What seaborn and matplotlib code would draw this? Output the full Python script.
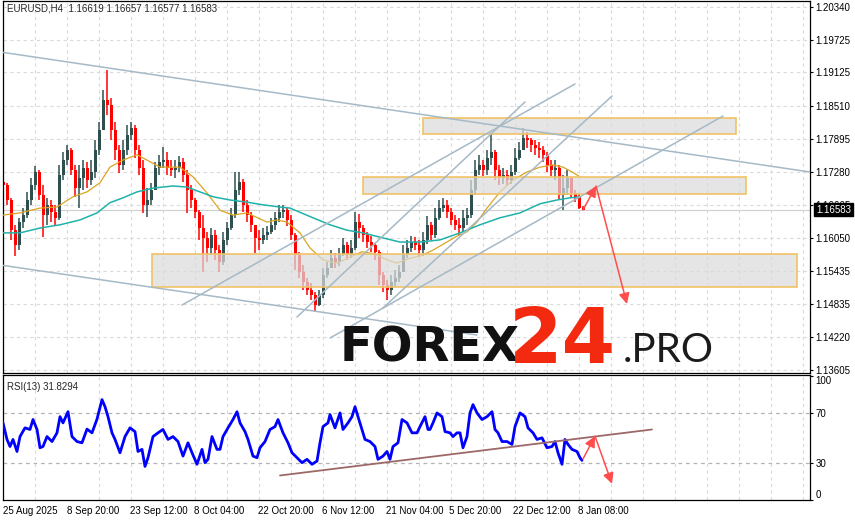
import numpy as np
import pandas as pd
import matplotlib
matplotlib.use('Agg')
import matplotlib.pyplot as plt
import seaborn as sns
from matplotlib.patches import Rectangle

# EURUSD H4, every candle below = 4 bars of the original chart
candle_step = 4
first_open = 1.1710
close = [1.1704, 1.1676, 1.1620, 1.1592, 1.1635, 1.1648, 1.1676, 1.1704, 1.1728, 1.1685,
         1.1648, 1.1667, 1.1654, 1.1643, 1.1722, 1.1750, 1.1769, 1.1732, 1.1698, 1.1717,
         1.1735, 1.1713, 1.1728, 1.1769, 1.1806, 1.1862, 1.1852, 1.1806, 1.1769, 1.1741,
         1.1769, 1.1797, 1.1810, 1.1769, 1.1735, 1.1667, 1.1676, 1.1694, 1.1735, 1.1746,
         1.1750, 1.1735, 1.1732, 1.1735, 1.1746, 1.1722, 1.1694, 1.1676, 1.1654, 1.1624,
         1.1606, 1.1587, 1.1611, 1.1583, 1.1561, 1.1602, 1.1624, 1.1648, 1.1694, 1.1709,
         1.1667, 1.1648, 1.1630, 1.1606, 1.1602, 1.1611, 1.1617, 1.1630, 1.1643, 1.1654,
         1.1657, 1.1639, 1.1611, 1.1574, 1.1542, 1.1524, 1.1509, 1.1500, 1.1481, 1.1500,
         1.1537, 1.1550, 1.1568, 1.1561, 1.1574, 1.1592, 1.1574, 1.1587, 1.1635, 1.1624,
         1.1611, 1.1598, 1.1592, 1.1580, 1.1537, 1.1518, 1.1509, 1.1524, 1.1531, 1.1542,
         1.1574, 1.1587, 1.1598, 1.1592, 1.1583, 1.1602, 1.1630, 1.1611, 1.1643, 1.1661,
         1.1667, 1.1654, 1.1639, 1.1630, 1.1624, 1.1643, 1.1648, 1.1694, 1.1732, 1.1741,
         1.1732, 1.1754, 1.1765, 1.1732, 1.1717, 1.1722, 1.1713, 1.1728, 1.1754, 1.1769,
         1.1791, 1.1787, 1.1778, 1.1772, 1.1769, 1.1760, 1.1741, 1.1732, 1.1735, 1.1685,
         1.1698, 1.1717, 1.1689, 1.1682, 1.1662, 1.16583]
high = [1.1717, 1.1708, 1.1680, 1.1630, 1.1643, 1.1661, 1.1691, 1.1717, 1.1739, 1.1732,
        1.1704, 1.1680, 1.1676, 1.1667, 1.1741, 1.1765, 1.1778, 1.1772, 1.1741, 1.1741,
        1.1750, 1.1746, 1.1750, 1.1787, 1.1821, 1.1880, 1.1917, 1.1865, 1.1821, 1.1778,
        1.1787, 1.1815, 1.1821, 1.1815, 1.1778, 1.1750, 1.1698, 1.1708, 1.1746, 1.1760,
        1.1774, 1.1765, 1.1750, 1.1750, 1.1758, 1.1754, 1.1732, 1.1704, 1.1680, 1.1657,
        1.1648, 1.1617, 1.1624, 1.1620, 1.1592, 1.1617, 1.1635, 1.1661, 1.1728, 1.1728,
        1.1715, 1.1676, 1.1654, 1.1630, 1.1620, 1.1624, 1.1628, 1.1643, 1.1654, 1.1667,
        1.1667, 1.1661, 1.1648, 1.1615, 1.1580, 1.1555, 1.1531, 1.1522, 1.1505, 1.1509,
        1.1550, 1.1561, 1.1583, 1.1578, 1.1587, 1.1606, 1.1598, 1.1602, 1.1654, 1.1650,
        1.1630, 1.1617, 1.1609, 1.1596, 1.1583, 1.1542, 1.1528, 1.1537, 1.1546, 1.1555,
        1.1592, 1.1602, 1.1609, 1.1607, 1.1602, 1.1617, 1.1646, 1.1635, 1.1661, 1.1676,
        1.1680, 1.1676, 1.1661, 1.1648, 1.1643, 1.1657, 1.1661, 1.1713, 1.1750, 1.1760,
        1.1750, 1.1769, 1.1800, 1.1769, 1.1741, 1.1735, 1.1732, 1.1741, 1.1772, 1.1784,
        1.1810, 1.1802, 1.1791, 1.1787, 1.1784, 1.1776, 1.1765, 1.1750, 1.1750, 1.1740,
        1.1722, 1.1732, 1.1717, 1.1694, 1.1687, 1.16657]
low = [1.1691, 1.1667, 1.1602, 1.1572, 1.1583, 1.1624, 1.1643, 1.1667, 1.1694, 1.1676,
       1.1607, 1.1630, 1.1635, 1.1630, 1.1639, 1.1713, 1.1741, 1.1722, 1.1682, 1.1661,
       1.1694, 1.1698, 1.1704, 1.1717, 1.1760, 1.1806, 1.1834, 1.1787, 1.1750, 1.1726,
       1.1732, 1.1760, 1.1787, 1.1754, 1.1722, 1.1652, 1.1644, 1.1667, 1.1694, 1.1722,
       1.1735, 1.1722, 1.1720, 1.1717, 1.1728, 1.1709, 1.1652, 1.1661, 1.1643, 1.1602,
       1.1542, 1.1561, 1.1574, 1.1565, 1.1542, 1.1555, 1.1592, 1.1620, 1.1643, 1.1685,
       1.1654, 1.1635, 1.1617, 1.1578, 1.1583, 1.1594, 1.1602, 1.1613, 1.1620, 1.1635,
       1.1643, 1.1628, 1.1602, 1.1546, 1.1531, 1.1509, 1.1500, 1.1491, 1.1468, 1.1479,
       1.1494, 1.1531, 1.1550, 1.1550, 1.1554, 1.1572, 1.1565, 1.1568, 1.1583, 1.1606,
       1.1598, 1.1587, 1.1580, 1.1565, 1.1518, 1.1505, 1.1491, 1.1500, 1.1515, 1.1524,
       1.1542, 1.1568, 1.1580, 1.1583, 1.1570, 1.1572, 1.1594, 1.1602, 1.1606, 1.1639,
       1.1654, 1.1643, 1.1630, 1.1620, 1.1611, 1.1617, 1.1630, 1.1643, 1.1685, 1.1722,
       1.1720, 1.1722, 1.1741, 1.1713, 1.1704, 1.1706, 1.1702, 1.1706, 1.1722, 1.1750,
       1.1769, 1.1772, 1.1765, 1.1760, 1.1754, 1.1746, 1.1728, 1.1720, 1.1713, 1.1676,
       1.1657, 1.1685, 1.1680, 1.1672, 1.1660, 1.16577]

# moving averages (orange = fast, teal = slow), read at bar positions
ma_fast_bar = [0, 17, 37, 54, 70, 84, 97, 107, 120, 134, 144, 157, 177, 190, 204, 217, 230, 244,
               264, 274, 284, 297, 307, 320, 334, 347, 359, 372, 384, 394, 407, 417, 430, 442,
               454, 464, 474, 484, 497, 510, 524, 537, 550, 560, 569, 577]
ma_fast = [1.1648, 1.1652, 1.1661, 1.1663, 1.1682, 1.1691, 1.1708, 1.1737, 1.1750, 1.1760,
           1.1750, 1.1737, 1.1737, 1.1719, 1.1689, 1.1657, 1.1648, 1.1652, 1.1635, 1.1639,
           1.1635, 1.1615, 1.1587, 1.1565, 1.1559, 1.1570, 1.1580, 1.1576, 1.1565, 1.1559,
           1.1568, 1.1572, 1.1583, 1.1596, 1.1609, 1.1617, 1.1635, 1.1661, 1.1691, 1.1713,
           1.1728, 1.1737, 1.1741, 1.1737, 1.1728, 1.1719]
ma_slow_bar = [0, 17, 37, 57, 77, 94, 107, 120, 134, 150, 170, 184, 197, 210, 227, 244, 260,
               277, 287, 310, 327, 344, 360, 377, 397, 417, 437, 457, 477, 497, 517, 537, 554,
               567, 577]
ma_slow = [1.1615, 1.1615, 1.1624, 1.1630, 1.1639, 1.1652, 1.1671, 1.1680, 1.1691, 1.1698,
           1.1702, 1.1700, 1.1691, 1.1682, 1.1676, 1.1672, 1.1667, 1.1663, 1.1661, 1.1643,
           1.1630, 1.1620, 1.1615, 1.1607, 1.1598, 1.1598, 1.1602, 1.1615, 1.1630, 1.1643,
           1.1652, 1.1669, 1.1676, 1.1680, 1.1682]

# RSI(13)
rsi_bar = [0, 4, 7, 10, 14, 17, 22, 27, 30, 34, 37, 40, 44, 49, 54, 57, 60, 65, 69, 74,
           79, 84, 89, 94, 99, 102, 105, 109, 112, 117, 122, 127, 132, 135, 139, 142, 145, 150,
           155, 160, 165, 170, 175, 180, 185, 189, 194, 199, 202, 205, 209, 214, 217, 220, 225,
           230, 234, 237, 242, 245, 250, 254, 257, 262, 267, 272, 275, 280, 285, 289, 294, 299,
           304, 309, 314, 317, 320, 325, 327, 332, 337, 340, 345, 349, 352, 355, 359, 362, 367,
           372, 375, 380, 384, 387, 390, 395, 399, 404, 409, 414, 417, 422, 425, 427, 430, 434,
           439, 442, 447, 450, 454, 457, 460, 464, 467, 470, 474, 479, 484, 489, 492, 495, 499,
           504, 509, 512, 517, 522, 525, 530, 534, 539, 544, 549, 552, 555, 559, 562, 565, 569,
           574, 577, 579]
rsi = [62, 48.7, 43, 48.7, 39, 51, 58, 56.7, 64.7, 56.7, 42, 43, 51, 47, 54, 67, 62, 71, 51, 47,
       46, 57, 54, 65, 80.7, 75, 67, 54, 48.7, 38, 51, 58, 55, 39, 40.7, 27, 34, 51, 54, 56.7,
       48.7, 51, 47, 35.3, 46, 38, 28.7, 40.7, 30, 32.7, 51, 40.7, 40.7, 51, 58, 64.7, 71, 62, 55,
       48.7, 35.3, 34, 42, 47, 56.7, 59, 64.7, 54, 46, 38, 34, 30, 32.7, 28.7, 31.3, 46, 59, 62,
       68.7, 58, 70, 56.7, 62, 67, 75, 67, 56.7, 48.7, 47, 43, 32.7, 35.3, 39, 32.7, 43, 46, 64.7,
       62, 54, 54, 59, 67, 56.7, 56.7, 62, 70, 67, 55, 54, 51, 54, 54, 42, 51, 70, 76.7, 70, 64.7,
       67, 71, 56.7, 54, 47, 47, 44.7, 59, 70, 67, 58, 54, 48.7, 50, 42, 43, 47, 38, 28.7, 48.7,
       44.7, 40.7, 39, 34, 31.8294]

header_ohlc = [1.16619, 1.16657, 1.16577, 1.16583]
last_price = 1.16583
price_ticks = [1.20340, 1.19725, 1.19125, 1.18510, 1.17895, 1.17280, 1.16665,
               1.16050, 1.15435, 1.14835, 1.14220, 1.13605]
date_ticks = [0, 64, 127, 191, 255, 319, 383, 446, 510, 575]
date_labels = ['25 Aug 2025', '8 Sep 20:00', '23 Sep 12:00', '8 Oct 04:00', '22 Oct 20:00',
               '6 Nov 12:00', '21 Nov 04:00', '5 Dec 20:00', '22 Dec 12:00', '8 Jan 08:00']

# drawn analysis objects: zones (bar range, price range) and trend lines
zone_x0 = [420, 360, 149]
zone_x1 = [733, 743, 794]
zone_lo = [1.17984, 1.16871, 1.15146]
zone_hi = [1.18281, 1.17187, 1.15758]
tl_x0 = [0, 0, 179, 294, 380, 327]
tl_y0 = [1.19498, 1.15547, 1.14812, 1.14590, 1.14757, 1.14200]
tl_x1 = [807, 474, 572, 522, 609, 720]
tl_y1 = [1.17279, 1.14256, 1.18912, 1.18578, 1.18689, 1.18318]
arrow_bar = [580, 593, 624]
arrow_price = [1.16575, 1.17020, 1.14831]
rsi_line_bar = [277, 649]
rsi_line_val = [19.7, 56.7]
rsi_arrow_bar = [580, 592, 609]
rsi_arrow_val = [33, 51.3, 13]

sns.set_style('white')
plt.rcParams['font.family'] = ['Liberation Sans', 'DejaVu Sans']
small = 7

W, H = 855, 521
fig = plt.figure(figsize=(W / 100, H / 100), dpi=100)


def px_box(x0, y0, x1, y1):
    return [x0 / W, 1 - y1 / H, (x1 - x0) / W, (y1 - y0) / H]


ax = fig.add_axes(px_box(3, 1, 810, 373))
ax2 = fig.add_axes(px_box(3, 375, 810, 500))

# candles
opens = [first_open] + close[:-1]
df = pd.DataFrame({'bar': np.arange(len(close)) * candle_step, 'open': opens,
                   'high': high, 'low': low, 'close': close})
colors = np.where(df['close'] >= df['open'], '#2f4f4f', '#ff0000')
ax.vlines(df['bar'], df['low'], df['high'], colors=colors, lw=1.1, zorder=2)
body = (df['close'] - df['open']).abs().clip(lower=0.00008)
ax.bar(df['bar'], body, bottom=df[['open', 'close']].min(axis=1), width=3.0,
       color=colors, lw=0, zorder=2)

sns.lineplot(x=ma_fast_bar, y=ma_fast, ax=ax, color='#daa520', lw=0.9, zorder=3)
sns.lineplot(x=ma_slow_bar, y=ma_slow, ax=ax, color='#20b2aa', lw=1.1, zorder=3)
ax.axhline(last_price, color='#cfcfcf', lw=0.8, zorder=1)

for x0, x1, lo, hi in zip(zone_x0, zone_x1, zone_lo, zone_hi):
    ax.add_patch(Rectangle((x0, lo), x1 - x0, hi - lo, fc=(0.86, 0.86, 0.86, 0.72),
                           ec='#f2c265', lw=1.2, zorder=4))

for x0, y0, x1, y1 in zip(tl_x0, tl_y0, tl_x1, tl_y1):
    ax.plot([x0, x1], [y0, y1], color='#a6b9c6', lw=1.1, zorder=5)

arrow_kw = dict(arrowstyle='-|>', color='#ff4d4d', lw=1.1, mutation_scale=16,
                shrinkA=0, shrinkB=0)
for i in range(len(arrow_bar) - 1):
    ax.annotate('', xy=(arrow_bar[i + 1], arrow_price[i + 1]),
                xytext=(arrow_bar[i], arrow_price[i]), arrowprops=arrow_kw, zorder=6)

ax.set_xlim(0, 807)
ax.set_ylim(1.13551, 1.20451)
ax.set_yticks(price_ticks)
ax.set_yticklabels([f'{t:.5f}' for t in price_ticks])
ax.set_xticks(np.arange(0, 808, 32))
ax.yaxis.tick_right()
ax.tick_params(axis='x', length=0, labelbottom=False)
ax.tick_params(axis='y', direction='out', length=2.5, width=0.8, pad=1.5,
               labelsize=small, colors='black')
ax.grid(True, ls=(0, (3, 3)), color='#dadada', lw=0.8)
ax.set_xlabel('')
ax.set_ylabel('')

ax.text(0.005, 0.981, 'EURUSD,H4  ' + ' '.join(f'{v:.5f}' for v in header_ohlc),
        transform=ax.transAxes, fontsize=small, va='center', ha='left')
ax.annotate(f'{last_price:.5f}', xy=(1, last_price), xycoords=('axes fraction', 'data'),
            xytext=(4.2, 0), textcoords='offset points', color='white', fontsize=small,
            va='center', ha='left', annotation_clip=False, zorder=10,
            bbox=dict(boxstyle='square,pad=0.18', fc='black', ec='black'))

# RSI panel
sns.lineplot(x=rsi_bar, y=rsi, ax=ax2, color='#0000ff', lw=2.0, zorder=3)
ax2.plot(rsi_line_bar, rsi_line_val, color='#9c6868', lw=1.3, zorder=4)
for i in range(len(rsi_arrow_bar) - 1):
    ax2.annotate('', xy=(rsi_arrow_bar[i + 1], rsi_arrow_val[i + 1]),
                 xytext=(rsi_arrow_bar[i], rsi_arrow_val[i]), arrowprops=arrow_kw, zorder=6)
for lvl in (30, 70):
    ax2.axhline(lvl, color='#b4b4b4', ls=(0, (3, 3)), lw=0.9, zorder=1)

ax2.set_xlim(0, 807)
ax2.set_ylim(0, 100.5)
ax2.set_yticks([0, 30, 70, 100])
ax2.set_yticklabels(['0', '30', '70', '100'])
ax2.yaxis.tick_right()
ylabels = ax2.get_yticklabels()
ylabels[0].set_va('bottom')
ylabels[3].set_va('top')
ax2.set_xticks(date_ticks)
ax2.set_xticklabels(date_labels, ha='left')
ax2.set_xticks(np.arange(0, 808, 32), minor=True)
ax2.tick_params(axis='both', which='major', direction='out', length=2.5, width=0.8, pad=1.5,
                labelsize=small, colors='black')
ax2.tick_params(axis='x', which='minor', length=0)
ax2.grid(True, axis='x', which='minor', ls=(0, (3, 3)), color='#dadada', lw=0.8)
ax2.grid(False, axis='x', which='major')
ax2.grid(False, axis='y')
ax2.set_xlabel('')
ax2.set_ylabel('')
ax2.text(0.005, 0.90, f'RSI(13) {rsi[-1]:.4f}', transform=ax2.transAxes,
         fontsize=small, va='center', ha='left')

for a in (ax, ax2):
    for s in a.spines.values():
        s.set_color('black')
        s.set_linewidth(0.9)

# watermark logo
fig.text(340 / W, 1 - 362 / H, 'FOREX', fontsize=34.6, family='DejaVu Sans',
         weight='bold', color='#111111', va='baseline', ha='left')
fig.text(509 / W, 1 - 363 / H, '24', fontsize=55.4, family='DejaVu Sans',
         weight='bold', color='#f32a10', va='baseline', ha='left')
fig.text(623 / W, 1 - 362 / H, '.PRO', fontsize=29, family=['Lato', 'DejaVu Sans'],
         weight='normal', color='#1b1b1b', va='baseline', ha='left')

fig.savefig('out.png', dpi=100)
